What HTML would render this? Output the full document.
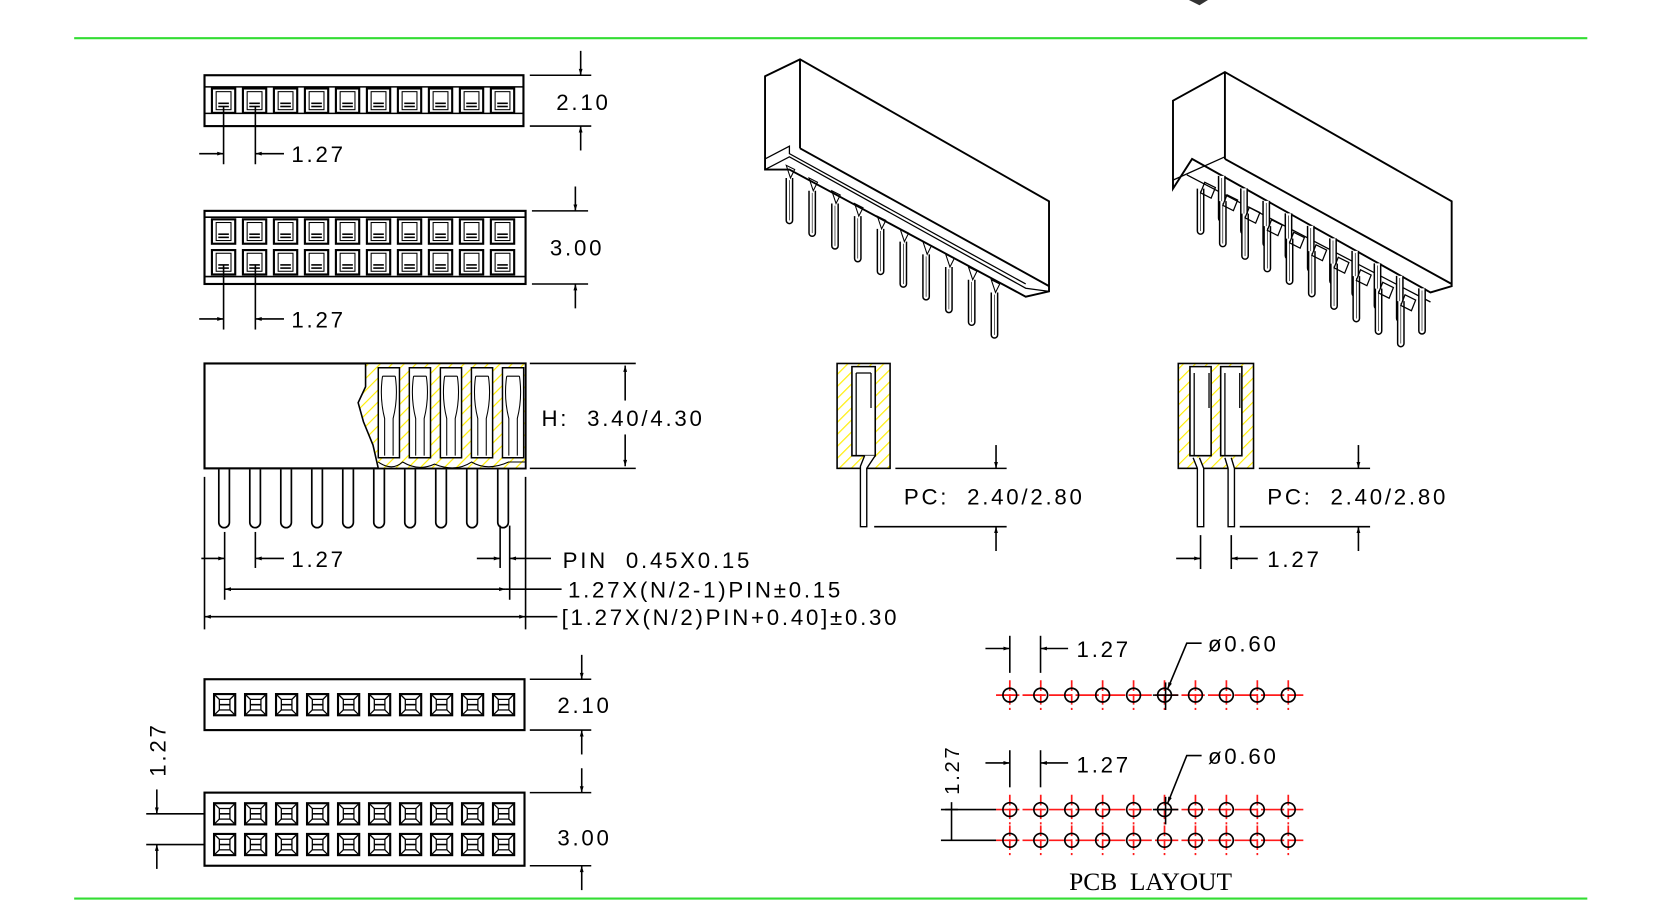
<!DOCTYPE html>
<html><head><meta charset="utf-8"><style>
html,body{margin:0;padding:0;background:#fff;}
svg{display:block}
text{font-family:"Liberation Sans",sans-serif;fill:#000}
text.ser{font-family:"Liberation Serif",serif;letter-spacing:0px}
</style></head><body>
<svg id="s" width="1653" height="906" viewBox="0 0 1560 855" preserveAspectRatio="none" xmlns="http://www.w3.org/2000/svg">
<defs>
<pattern id="h" width="8" height="8" patternUnits="userSpaceOnUse" patternTransform="rotate(45)">
<rect width="8" height="8" fill="#fff"/><line x1="0" y1="0" x2="0" y2="8" stroke="#ffee00" stroke-width="2.2"/>
</pattern>
<marker id="a" viewBox="0 0 10 10" refX="10" refY="5" markerWidth="9" markerHeight="6" orient="auto-start-reverse" markerUnits="userSpaceOnUse"><path d="M0,2 L10,5 L0,8z" fill="#000"/></marker>
<g id="c1"><rect x="0" y="0" width="22" height="23" fill="none" stroke="#000" stroke-width="2"/><rect x="4" y="3" width="14" height="17" fill="none" stroke="#000" stroke-width="1"/><line x1="6" y1="14" x2="16" y2="14" stroke="#000"/><line x1="6" y1="17" x2="16" y2="17" stroke="#000"/></g>
<g id="c2"><rect x="0" y="0" width="20" height="20" fill="none" stroke="#000" stroke-width="2"/><rect x="5" y="5" width="10" height="10" fill="none" stroke="#000" stroke-width="1.2"/><path d="M1,1 L5,5 M19,1 L15,5 M1,19 L5,15 M19,19 L15,15" stroke="#000" stroke-width="1.2"/><line x1="5" y1="10" x2="15" y2="10" stroke="#000"/></g>
<g id="pin"><path d="M-5,0 V50 A5,5 0 0 0 5,50 V0" fill="none" stroke="#000" stroke-width="1.6"/></g>
<g id="ip"><path d="M-3,0 V40 A3,3 0 0 0 3,40 V0" fill="#fff" stroke="#000" stroke-width="1.4"/><line x1="0" y1="2" x2="0" y2="40" stroke="#000" stroke-width="0.6"/></g>
</defs>
<g stroke="#000" stroke-width="1.5" fill="none">
<line x1="70" y1="36" x2="1498" y2="36" stroke="#33dd33" stroke-width="2"/>
<line x1="70" y1="848" x2="1498" y2="848" stroke="#33dd33" stroke-width="2"/>
<path d="M1122,0 L1140,0 L1132,5 z" fill="#333" stroke="none"/>

<rect x="193" y="71" width="301" height="48" stroke-width="2"/>
<line x1="193" y1="82" x2="494" y2="82"/><line x1="193" y1="107" x2="494" y2="107"/>
<g id="r1"></g>
<line x1="500" y1="71" x2="558" y2="71"/><line x1="500" y1="119" x2="558" y2="119"/>
<line x1="548" y1="48" x2="548" y2="71" marker-end="url(#a)"/><line x1="548" y1="142" x2="548" y2="119" marker-end="url(#a)"/>
<line x1="211" y1="100" x2="211" y2="155"/><line x1="241" y1="100" x2="241" y2="155"/>
<line x1="188" y1="145" x2="211" y2="145" marker-end="url(#a)"/><line x1="268" y1="145" x2="241" y2="145" marker-end="url(#a)"/>

<rect x="193" y="199" width="303" height="69" stroke-width="2"/>
<line x1="193" y1="205" x2="496" y2="205"/><line x1="193" y1="261" x2="496" y2="261"/>
<g id="r2"></g>
<line x1="502" y1="199" x2="555" y2="199"/><line x1="502" y1="268" x2="555" y2="268"/>
<line x1="543" y1="176" x2="543" y2="199" marker-end="url(#a)"/><line x1="543" y1="291" x2="543" y2="268" marker-end="url(#a)"/>
<line x1="211" y1="250" x2="211" y2="311"/><line x1="241" y1="250" x2="241" y2="311"/>
<line x1="188" y1="301" x2="211" y2="301" marker-end="url(#a)"/><line x1="268" y1="301" x2="241" y2="301" marker-end="url(#a)"/>

<rect x="193" y="343" width="303" height="99" stroke-width="2"/>
<path d="M345,343 L345,365 L338,380 L343,398 L352,420 L357,442 L496,442 L496,343 z" fill="url(#h)" stroke="#000" stroke-width="1.5"/>
<g id="cav"></g>
<path d="M357,436 Q370,445 380,436 Q395,445 410,438 Q430,446 445,436 Q460,445 480,436 L496,436" stroke-width="1"/>
<g id="pins"></g>
<line x1="500" y1="343" x2="600" y2="343"/><line x1="500" y1="442" x2="600" y2="442"/>
<line x1="590" y1="378" x2="590" y2="345" marker-end="url(#a)"/><line x1="590" y1="410" x2="590" y2="440" marker-end="url(#a)"/>
<line x1="193" y1="450" x2="193" y2="594"/><line x1="496" y1="450" x2="496" y2="594"/>
<line x1="212" y1="502" x2="212" y2="566"/><line x1="241" y1="502" x2="241" y2="536"/>
<line x1="472" y1="496" x2="472" y2="536"/><line x1="481" y1="496" x2="481" y2="566"/>
<line x1="190" y1="527" x2="212" y2="527" marker-end="url(#a)"/><line x1="268" y1="527" x2="241" y2="527" marker-end="url(#a)"/>
<line x1="450" y1="527" x2="472" y2="527" marker-end="url(#a)"/><line x1="520" y1="527" x2="481" y2="527" marker-end="url(#a)"/>
<line x1="212" y1="556" x2="477" y2="556" marker-start="url(#a)" marker-end="url(#a)"/><line x1="477" y1="556" x2="530" y2="556"/>
<line x1="193" y1="582" x2="496" y2="582" marker-start="url(#a)" marker-end="url(#a)"/><line x1="496" y1="582" x2="526" y2="582"/>

<rect x="193" y="641" width="302" height="48" stroke-width="2"/>
<g id="r3"></g>
<line x1="500" y1="641" x2="558" y2="641"/><line x1="500" y1="689" x2="558" y2="689"/>
<line x1="549" y1="618" x2="549" y2="641" marker-end="url(#a)"/><line x1="549" y1="712" x2="549" y2="689" marker-end="url(#a)"/>
<rect x="193" y="748" width="302" height="69" stroke-width="2"/>
<g id="r4"></g>
<line x1="500" y1="748" x2="558" y2="748"/><line x1="500" y1="817" x2="558" y2="817"/>
<line x1="549" y1="725" x2="549" y2="748" marker-end="url(#a)"/><line x1="549" y1="840" x2="549" y2="817" marker-end="url(#a)"/>
<line x1="138" y1="768" x2="193" y2="768"/><line x1="138" y1="797" x2="193" y2="797"/>
<line x1="148" y1="745" x2="148" y2="768" marker-end="url(#a)"/><line x1="148" y1="820" x2="148" y2="797" marker-end="url(#a)"/>

<rect x="790" y="343" width="50" height="99" fill="url(#h)" stroke-width="1.5"/>
<path d="M804,346 H826 V430 H804 z" fill="#fff" stroke-width="1.5"/>
<path d="M808,352 V430 M822,352 V385 M808,352 H822" stroke-width="1.2"/>
<path d="M816,430 L812,440 V497 H818 V442 L826,430" fill="#fff" stroke-width="1.3"/>
<line x1="845" y1="442" x2="950" y2="442"/><line x1="825" y1="497" x2="950" y2="497"/>
<line x1="940" y1="420" x2="940" y2="442" marker-end="url(#a)"/><line x1="940" y1="520" x2="940" y2="497" marker-end="url(#a)"/>

<rect x="1112" y="343" width="71" height="99" fill="url(#h)" stroke-width="1.5"/>
<path d="M1123,346 H1143 V430 H1123 z M1152,346 H1172 V430 H1152 z" fill="#fff" stroke-width="1.5"/>
<path d="M1127,352 V430 M1141,352 V385 M1156,352 V430 M1170,352 V385" stroke-width="1.2"/>
<path d="M1126,432 L1130,442 V497 H1136 V442 L1132,432" fill="#fff" stroke-width="1.3"/>
<path d="M1156,432 L1159,442 V497 H1165 V442 L1162,432" fill="#fff" stroke-width="1.3"/>
<line x1="1188" y1="442" x2="1293" y2="442"/><line x1="1170" y1="497" x2="1293" y2="497"/>
<line x1="1282" y1="420" x2="1282" y2="442" marker-end="url(#a)"/><line x1="1282" y1="520" x2="1282" y2="497" marker-end="url(#a)"/>
<line x1="1133" y1="505" x2="1133" y2="537"/><line x1="1162" y1="505" x2="1162" y2="537"/>
<line x1="1110" y1="527" x2="1133" y2="527" marker-end="url(#a)"/><line x1="1187" y1="527" x2="1162" y2="527" marker-end="url(#a)"/>

<path d="M722,72 L755,56 L990,190 L990,275 L968,280 L745,160 L722,160 z" fill="#fff" stroke-width="1.8"/>
<line x1="755" y1="56" x2="755" y2="140" stroke-width="1.8"/>
<path d="M755,140 L990,270" stroke-width="1.8"/>
<path d="M722,150 L745,138 L745,145 L968,268" stroke-width="1.2"/>
<path d="M722,160 L745,148 L968,272 L990,275" stroke-width="1.2"/>
<g id="iso1"></g>

<path d="M1107,95 L1156,68 L1370,190 L1370,270 L1350,276 L1125,150 L1107,178 z" fill="#fff" stroke-width="1.8"/>
<line x1="1156" y1="68" x2="1156" y2="150" stroke-width="1.8"/>
<path d="M1156,150 L1370,268" stroke-width="1.8"/>
<path d="M1107,170 L1156,148" stroke-width="1.2"/>
<path d="M1120,165 L1350,285" stroke-width="1.2"/>
<g id="iso2"></g>

<g id="pcb"></g>
<line x1="953" y1="600" x2="953" y2="635"/><line x1="982" y1="600" x2="982" y2="635"/>
<line x1="930" y1="612" x2="953" y2="612" marker-end="url(#a)"/><line x1="1008" y1="612" x2="982" y2="612" marker-end="url(#a)"/>
<path d="M1134,607 L1120,607 L1102,650" marker-end="url(#a)"/>
<line x1="953" y1="708" x2="953" y2="743"/><line x1="982" y1="708" x2="982" y2="743"/>
<line x1="930" y1="720" x2="953" y2="720" marker-end="url(#a)"/><line x1="1008" y1="720" x2="982" y2="720" marker-end="url(#a)"/>
<path d="M1134,713 L1120,713 L1102,758" marker-end="url(#a)"/>
<line x1="888" y1="764" x2="940" y2="764"/><line x1="888" y1="793" x2="940" y2="793"/>
<line x1="898" y1="757" x2="898" y2="793"/><line x1="892" y1="764" x2="904" y2="764"/>
</g>

<g font-size="21" letter-spacing="2.6">
<text x="525" y="104">2.10</text>
<text x="275" y="153">1.27</text>
<text x="519" y="241">3.00</text>
<text x="275" y="309">1.27</text>
<text x="511" y="402" xml:space="preserve">H:  3.40/4.30</text>
<text x="275" y="535">1.27</text>
<text x="531" y="536" xml:space="preserve">PIN  0.45X0.15</text>
<text x="536" y="564">1.27X(N/2-1)PIN±0.15</text>
<text x="530" y="590">[1.27X(N/2)PIN+0.40]±0.30</text>
<text x="526" y="673">2.10</text>
<text x="526" y="798">3.00</text>
<text transform="translate(156,733) rotate(-90)">1.27</text>
<text x="853" y="476" xml:space="preserve">PC:  2.40/2.80</text>
<text x="1196" y="476" xml:space="preserve">PC:  2.40/2.80</text>
<text x="1196" y="535">1.27</text>
<text x="1016" y="620">1.27</text>
<text x="1140" y="615">ø0.60</text>
<text x="1016" y="729">1.27</text>
<text x="1140" y="721">ø0.60</text>
<text transform="translate(905,750) rotate(-90)" font-size="19">1.27</text>
<text class="ser" x="1009" y="840" font-size="24" letter-spacing="0" xml:space="preserve">PCB  LAYOUT</text>
</g>
</svg>
<script>
var N="http://www.w3.org/2000/svg";
function add(id,tag,at){var g=document.getElementById(id);var e=document.createElementNS(N,tag);for(var k in at)e.setAttribute(k,at[k]);g.appendChild(e);return e;}
for(var i=0;i<10;i++){
 var x=200+29.25*i;
 add('r1','use',{href:'#c1',x:x,y:83.5});
 add('r2','use',{href:'#c1',x:x,y:207});
 add('r2','use',{href:'#c1',x:x,y:236});
 add('r3','use',{href:'#c2',x:x+2,y:655});
 add('r4','use',{href:'#c2',x:x+2,y:758});
 add('r4','use',{href:'#c2',x:x+2,y:787});
 add('pins','use',{href:'#pin',x:211.5+29.25*i,y:443});
 if(i<5){var cx=357+29.3*i;add('cav','path',{d:'M'+cx+',347 h20 v85 h-20 z',fill:'#fff','stroke-width':'1.4'});
  add('cav','path',{d:'M'+(cx+4)+',355 q-3,20 2,40 v35 M'+(cx+16)+',355 q3,20 -2,40 v35 M'+(cx+4)+',355 h12','stroke-width':'1'});}
 var ix=745+21.5*i, iy=168+12*i;
 add('iso1','use',{href:'#ip',x:ix,y:iy});
 add('iso1','path',{d:'M'+(ix-3)+','+(iy-12)+' l8,4 l-4,8 z','stroke-width':'1'});
 var jx=1133+21*i, jy=170+11.8*i;
 add('iso2','use',{href:'#ip',x:jx,y:jy+8});
 add('iso2','use',{href:'#ip',x:jx+20,y:jy-4});
 add('iso2','path',{d:'M'+(jx+4)+','+(jy+2)+' l10,5 l-4,10 l-10,-5 z','stroke-width':'1.2'});
}
[656,764,793].forEach(function(y){
 add('pcb','line',{x1:940,y1:y,x2:1230,y2:y,stroke:'#ff1a1a','stroke-width':'1.6','stroke-dasharray':'22,3'});
 for(var i=0;i<10;i++){var x=953+29.2*i;
  add('pcb','line',{x1:x,y1:y-14,x2:x,y2:y+14,stroke:'#ff1a1a','stroke-width':'1.6','stroke-dasharray':'10,3'});
  add('pcb','circle',{cx:x,cy:y,r:6.5,fill:'none',stroke:'#000','stroke-width':'1.6'});}
});
add('pcb','line',{x1:1088,y1:656,x2:1112,y2:656,stroke:'#000','stroke-width':'1.5'});
add('pcb','line',{x1:1100,y1:644,x2:1100,y2:670,stroke:'#000','stroke-width':'1.5'});
add('pcb','line',{x1:1088,y1:764,x2:1112,y2:764,stroke:'#000','stroke-width':'1.5'});
add('pcb','line',{x1:1100,y1:752,x2:1100,y2:778,stroke:'#000','stroke-width':'1.5'});
</script>
</body></html>
